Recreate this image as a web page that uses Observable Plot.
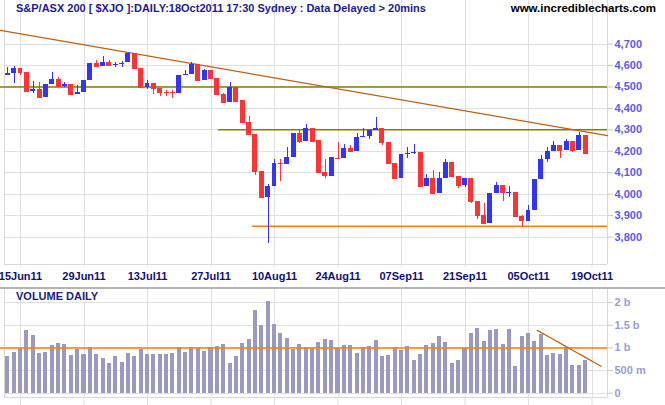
<!DOCTYPE html>
<html><head><meta charset="utf-8">
<script src="https://cdn.jsdelivr.net/npm/d3@7"></script>
<script src="https://cdn.jsdelivr.net/npm/@observablehq/plot@0.6"></script>
<style>
body{margin:0;background:#fff;}
#wrap{position:relative;width:665px;height:405px;overflow:hidden;font-family:"Liberation Sans",Arial,sans-serif;background:#fff;}
#main{position:absolute;left:0;top:0;}
#vol{position:absolute;left:0;top:287px;border-top:2px solid #b4b4b4;width:665px;}
.t{position:absolute;font-weight:bold;font-size:11px;white-space:nowrap;line-height:12px;}
</style></head><body>
<div id="wrap">
 <div id="main"></div><div id="vol"></div>
 <div class="t" style="left:16px;top:2px;color:#1c1c90">S&amp;P/ASX 200 [ $XJO ]:DAILY:18Oct2011 17:30 Sydney : Data Delayed &gt; 20mins</div>
 <div class="t" style="right:9px;top:2px;color:#000;font-size:11.5px">www.incrediblecharts.com</div>
 <div class="t" style="left:16px;top:290px;color:#1c1c80;font-size:11px">VOLUME DAILY</div>
</div>
<script>
const dates = [
"2011-06-10","2011-06-14","2011-06-15","2011-06-16","2011-06-17","2011-06-20","2011-06-21","2011-06-22","2011-06-23","2011-06-24",
"2011-06-27","2011-06-28","2011-06-29","2011-06-30","2011-07-01","2011-07-04","2011-07-05","2011-07-06","2011-07-07","2011-07-08",
"2011-07-11","2011-07-12","2011-07-13","2011-07-14","2011-07-15","2011-07-18","2011-07-19","2011-07-20","2011-07-21","2011-07-22",
"2011-07-25","2011-07-26","2011-07-27","2011-07-28","2011-07-29","2011-08-01","2011-08-02","2011-08-03","2011-08-04","2011-08-05",
"2011-08-08","2011-08-09","2011-08-10","2011-08-11","2011-08-12","2011-08-15","2011-08-16","2011-08-17","2011-08-18","2011-08-19",
"2011-08-22","2011-08-23","2011-08-24","2011-08-25","2011-08-26","2011-08-29","2011-08-30","2011-08-31","2011-09-01","2011-09-02",
"2011-09-05","2011-09-06","2011-09-07","2011-09-08","2011-09-09","2011-09-12","2011-09-13","2011-09-14","2011-09-15","2011-09-16",
"2011-09-19","2011-09-20","2011-09-21","2011-09-22","2011-09-23","2011-09-26","2011-09-27","2011-09-28","2011-09-29","2011-09-30",
"2011-10-03","2011-10-04","2011-10-05","2011-10-06","2011-10-07","2011-10-10","2011-10-11","2011-10-12","2011-10-13","2011-10-14",
"2011-10-17","2011-10-18"];
const open = [4555,4564,4587,4566,4479,4488,4452,4513,4535,4503,4511,4466,4475,4531,4609,4597,4612,4603,4607,4612,
4657,4587,4499,4516,4493,4474,4474,4471,4557,4558,4604,4530,4577,4539,4466,4427,4499,4437,4335,4278,
4106,3986,4036,4142,4138,4171,4284,4246,4305,4250,4101,4084,4168,4168,4213,4200,4267,4269,4298,4306,
4241,4144,4074,4188,4193,4194,4037,4073,4004,4073,4148,4082,4042,4073,3967,3899,3865,4003,4039,4009,
4008,3896,3874,3924,4068,4162,4199,4227,4204,4244,4204,4273];
const high = [4592,4597,4587,4566,4525,4519,4511,4567,4544,4521,4511,4505,4530,4609,4623,4642,4623,4612,4618,4662,
4657,4587,4530,4516,4493,4485,4485,4553,4577,4614,4604,4581,4577,4539,4471,4521,4499,4437,4363,4278,
4106,4045,4162,4162,4219,4284,4297,4325,4305,4250,4162,4171,4241,4232,4227,4283,4305,4298,4359,4306,
4241,4144,4185,4216,4230,4194,4092,4110,4101,4162,4148,4082,4073,4073,3967,3958,4003,4054,4039,4036,
4008,3901,3949,4068,4179,4219,4247,4227,4255,4244,4287,4273];
const low = [4555,4515,4553,4479,4468,4452,4452,4513,4502,4496,4459,4466,4475,4531,4597,4597,4600,4589,4589,4612,
4583,4493,4489,4466,4457,4457,4447,4471,4557,4558,4530,4530,4539,4466,4424,4427,4429,4328,4278,4087,
3978,3769,4036,4060,4138,4171,4238,4246,4242,4098,4074,4084,4167,4168,4200,4200,4265,4256,4298,4228,
4137,4074,4074,4165,4183,4037,4037,4002,4004,4073,4081,4028,4030,3955,3883,3860,3865,4003,3967,3983,
3891,3843,3874,3924,4068,4149,4199,4168,4204,4196,4204,4188];
const close = [4564,4587,4569,4480,4488,4452,4511,4535,4502,4513,4466,4475,4530,4609,4597,4612,4600,4604,4608,4654,
4587,4497,4516,4493,4475,4473,4473,4553,4558,4604,4530,4577,4539,4466,4427,4499,4433,4335,4278,4106,
3983,4036,4142,4141,4171,4284,4246,4305,4247,4101,4086,4171,4167,4211,4200,4264,4268,4298,4306,4241,
4144,4074,4185,4189,4194,4037,4073,4004,4073,4148,4084,4042,4073,3967,3902,3865,4003,4039,4009,4010,
3896,3876,3924,4068,4162,4199,4227,4204,4244,4204,4273,4188];
// volume in millions of shares
const volume = [800,900,980,1390,1280,880,900,1060,1100,1080,830,970,860,1020,860,770,660,800,680,880,
800,970,860,860,860,860,880,1000,900,1000,1010,920,1000,1030,1080,660,800,1100,1190,1830,
1500,2030,1520,1320,1210,970,1080,1010,990,1120,1190,1170,980,1055,1055,880,1010,1030,1170,820,
835,1010,945,1030,720,855,1055,1100,1255,1120,655,720,980,1320,1430,1145,1390,1410,1080,1410,
590,1255,1320,1145,1300,835,880,855,1000,615,615,720];

const tickDates = ["2011-06-15","2011-06-29","2011-07-13","2011-07-27","2011-08-10","2011-08-24","2011-09-07","2011-09-21","2011-10-05","2011-10-19"];
const tickLabels = ["15Jun11","29Jun11","13Jul11","27Jul11","10Aug11","24Aug11","07Sep11","21Sep11","05Oct11","19Oct11"];
const priceTicks = [3800,3900,4000,4100,4200,4300,4400,4500,4600,4700];
const volTicks = [0,500,1000,1500,2000];
const volTickLabels = ["0","500 m","1 b","1.5 b","2 b"];

// horizontal support/resistance lines: level, first bar index
const hLevels = [4500, 4300, 3850];
const hStarts = [-1.15, 33.2, 38.5];
// price trendline (bar index, value)
const trendIdx = [-1.15, 94.44];
const trendVal = [4764, 4273];
// volume trendline
const volTrendIdx = [83.4, 93.4];
const volTrendVal = [1387, 597];
const volAvg = 1000;

const N = dates.length;
const XA = -1.15, X0 = -0.52, X1 = 94.44;
const tickIdx = tickDates.map(d => { const k = dates.indexOf(d); return k >= 0 ? k : N; });
const candles = dates.map((d, i) => ({i, o: open[i], h: high[i], l: low[i], c: close[i]}));
const col = d => d.c > d.o ? "#3333ff" : "#ff3333";
const bw = 0.39;
const grid = "#e0e0e0";
const fmtX = d => tickLabels[tickIdx.indexOf(d)];

const main = Plot.plot({
  width: 665, height: 288,
  marginLeft: 0, marginRight: 58, marginTop: 0, marginBottom: 24,
  style: {fontFamily: "'Liberation Sans', Arial, sans-serif", fontSize: "11px", background: "transparent"},
  x: {type: "linear", domain: [XA, X1]},
  y: {domain: [3672, 4903]},
  color: {type: "identity"},
  marks: [
    Plot.ruleX(tickIdx, {stroke: grid, shapeRendering: "crispEdges"}),
    Plot.ruleY(priceTicks, {x1: X0, x2: X1, stroke: grid, shapeRendering: "crispEdges"}),
    Plot.ruleX([X0, X1], {stroke: "#d8d8d8", shapeRendering: "crispEdges"}),
    Plot.ruleY([3672], {x1: X0, x2: X1, stroke: "#d8d8d8", shapeRendering: "crispEdges"}),
    Plot.ruleY(hLevels.map((v, k) => ({v, s: hStarts[k], k})), {
      y: "v", x1: "s", x2: X1, strokeWidth: 1.5,
      stroke: d => d.k < 2 ? "#808000" : "#ff8000"}),
    Plot.line(trendIdx.map((x, k) => ({x, y: trendVal[k]})), {x: "x", y: "y", stroke: "#c06010", strokeWidth: 1.2}),
    Plot.ruleX(candles, {x: "i", y1: "l", y2: "h", stroke: col, shapeRendering: "crispEdges"}),
    Plot.rect(candles, {x1: d => d.i - bw, x2: d => d.i + bw, y1: "o", y2: "c", fill: col, shapeRendering: "crispEdges"}),
    Plot.ruleY(candles, {x1: d => d.i - bw, x2: d => d.i + bw, y: "c", stroke: col, shapeRendering: "crispEdges"}),
    Plot.axisY(priceTicks, {anchor: "right", tickSize: 5, tickPadding: 2, tickFormat: d3.format(","),
      stroke: "#c8c8c8", fill: "#5a5af0", fontSize: 11, fontWeight: "bold", label: null}),
    Plot.axisX(tickIdx, {anchor: "bottom", tickSize: 3, tickPadding: 5, tickFormat: fmtX,
      stroke: grid, fill: "#10107a", fontSize: 11, fontWeight: "bold", label: null})
  ]
});
document.getElementById("main").appendChild(main);

const vols = volume.map((v, i) => ({i, v}));
const vol = Plot.plot({
  width: 665, height: 116,
  marginLeft: 0, marginRight: 58, marginTop: 0, marginBottom: 8,
  style: {fontFamily: "'Liberation Sans', Arial, sans-serif", fontSize: "11px", background: "transparent"},
  x: {type: "linear", domain: [XA, X1]},
  y: {domain: [-95, 2290]},
  marks: [
    Plot.ruleX(tickIdx, {stroke: grid, shapeRendering: "crispEdges"}),
    Plot.ruleY(volTicks, {x1: X0, x2: X1, stroke: grid, shapeRendering: "crispEdges"}),
    Plot.ruleX([X0, X1], {stroke: "#d8d8d8", shapeRendering: "crispEdges"}),
    Plot.ruleY([-95], {x1: X0, x2: X1, stroke: "#d8d8d8", shapeRendering: "crispEdges"}),
    Plot.rect(vols, {x1: d => d.i - 0.32, x2: d => d.i + 0.32, y1: 0, y2: "v", fill: "#9999c2", shapeRendering: "crispEdges"}),
    Plot.ruleY([volAvg], {stroke: "#ff8000", strokeWidth: 1.5}),
    Plot.line(volTrendIdx.map((x, k) => ({x, y: volTrendVal[k]})), {x: "x", y: "y", stroke: "#c06010", strokeWidth: 1.3, strokeDasharray: "2,1"}),
    Plot.axisY(volTicks, {anchor: "right", tickSize: 5, tickPadding: 2, tickFormat: d => volTickLabels[volTicks.indexOf(d)],
      stroke: "#c8c8c8", fill: "#9a9ad4", fontSize: 11, fontWeight: "bold", label: null}),
    Plot.axisX(tickIdx, {anchor: "bottom", tickSize: 8, tickFormat: () => "", stroke: grid, label: null})
  ]
});
document.getElementById("vol").appendChild(vol);
</script>
</body></html>
